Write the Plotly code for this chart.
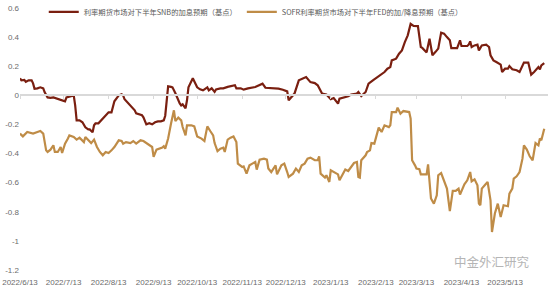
import plotly.graph_objects as go

snb_dates = ["2022-06-13","2022-06-14","2022-06-16","2022-06-17","2022-06-19","2022-06-21","2022-06-22","2022-06-23","2022-06-25","2022-06-27",
"2022-06-29","2022-06-30","2022-07-02","2022-07-04","2022-07-06","2022-07-08","2022-07-11","2022-07-13","2022-07-14","2022-07-15",
"2022-07-17","2022-07-20","2022-07-21","2022-07-22","2022-07-24","2022-07-26","2022-07-28","2022-07-30","2022-07-31","2022-08-02",
"2022-08-03","2022-08-04","2022-08-06","2022-08-08","2022-08-09","2022-08-11","2022-08-13","2022-08-15","2022-08-16","2022-08-17",
"2022-08-19","2022-08-20","2022-08-22","2022-08-23","2022-08-24","2022-08-26","2022-08-27","2022-08-28","2022-08-31","2022-09-01",
"2022-09-03","2022-09-05","2022-09-06","2022-09-08","2022-09-10","2022-09-12","2022-09-14","2022-09-16","2022-09-18","2022-09-20",
"2022-09-21","2022-09-23","2022-09-25","2022-09-26","2022-09-28","2022-09-29","2022-10-01","2022-10-02","2022-10-03","2022-10-05",
"2022-10-06","2022-10-07","2022-10-09","2022-10-10","2022-10-12","2022-10-13","2022-10-15","2022-10-17","2022-10-18","2022-10-20",
"2022-10-21","2022-10-23","2022-10-25","2022-10-26","2022-10-29","2022-10-31","2022-11-03","2022-11-05","2022-11-08","2022-11-09",
"2022-11-12","2022-11-14","2022-11-17","2022-11-22","2022-11-25","2022-11-27","2022-11-29","2022-12-04","2022-12-08","2022-12-11",
"2022-12-14","2022-12-15","2022-12-17","2022-12-19","2022-12-22","2022-12-25","2022-12-27","2022-12-30","2023-01-02","2023-01-04",
"2023-01-05","2023-01-07","2023-01-10","2023-01-13","2023-01-15","2023-01-16","2023-01-18","2023-01-19","2023-01-23","2023-01-25",
"2023-01-27","2023-01-31","2023-02-01","2023-02-03","2023-02-06","2023-02-08","2023-02-11","2023-02-14","2023-02-16","2023-02-18",
"2023-02-19","2023-02-21","2023-02-23","2023-02-24","2023-02-27","2023-03-01","2023-03-03","2023-03-05","2023-03-07","2023-03-09",
"2023-03-11","2023-03-14","2023-03-16","2023-03-17","2023-03-19","2023-03-20","2023-03-22","2023-03-24","2023-03-26","2023-03-28",
"2023-03-30","2023-04-01","2023-04-03","2023-04-05","2023-04-06","2023-04-10","2023-04-12","2023-04-13","2023-04-17","2023-04-18",
"2023-04-19","2023-04-20","2023-04-22","2023-04-24","2023-04-25","2023-04-27","2023-04-30","2023-05-02","2023-05-03","2023-05-05",
"2023-05-07","2023-05-10","2023-05-11","2023-05-13","2023-05-15","2023-05-16","2023-05-18","2023-05-21","2023-05-23","2023-05-25",
"2023-05-26","2023-05-29","2023-05-30","2023-05-31","2023-06-02","2023-06-04","2023-06-05","2023-06-06","2023-06-07","2023-06-09"]
snb_values = [0.117,0.103,0.106,0.093,0.103,0.103,0.082,0.045,0.048,0.055,
0.048,0.021,-0.014,-0.017,-0.014,-0.021,-0.027,-0.034,-0.041,-0.014,
-0.007,0.0,-0.069,-0.172,-0.172,-0.185,-0.220,-0.234,-0.234,-0.254,
-0.206,-0.192,-0.192,-0.172,-0.158,-0.137,-0.117,-0.117,-0.069,-0.041,
-0.014,0.0,0.007,0.0,-0.027,-0.048,-0.062,-0.076,-0.103,-0.124,
-0.130,-0.137,-0.151,-0.199,-0.192,-0.199,-0.185,-0.179,-0.179,-0.172,
-0.140,0.062,0.058,0.055,0.014,-0.014,-0.055,-0.069,-0.062,-0.089,
-0.034,0.055,0.103,0.117,0.076,0.055,0.041,0.034,0.041,0.055,
0.034,0.048,0.024,0.041,0.048,0.048,0.058,0.062,0.069,0.048,
0.048,0.039,0.048,0.057,0.069,0.080,0.052,0.050,0.046,0.038,
0.027,-0.034,-0.014,0.012,0.103,0.119,0.126,0.091,0.084,0.069,
0.048,0.012,0.005,-0.027,-0.019,-0.034,-0.057,-0.023,-0.012,-0.007,
0.005,0.012,0.023,-0.005,0.023,0.080,0.103,0.126,0.137,0.156,
0.160,0.183,0.194,0.240,0.252,0.286,0.309,0.366,0.412,0.491,
0.477,0.476,0.332,0.326,0.302,0.295,0.389,0.275,0.297,0.321,
0.431,0.424,0.400,0.378,0.325,0.325,0.378,0.339,0.339,0.348,
0.371,0.332,0.343,0.348,0.309,0.343,0.348,0.332,0.275,0.240,
0.229,0.211,0.160,0.183,0.183,0.201,0.179,0.172,0.160,0.206,
0.225,0.225,0.183,0.142,0.160,0.183,0.194,0.179,0.206,0.222]

fed_dates = ["2022-06-13","2022-06-15","2022-06-18","2022-06-20","2022-06-22","2022-06-25","2022-06-27","2022-06-29","2022-07-01","2022-07-02",
"2022-07-04","2022-07-06","2022-07-07","2022-07-09","2022-07-11","2022-07-12","2022-07-14","2022-07-16","2022-07-17","2022-07-20",
"2022-07-22","2022-07-24","2022-07-27","2022-07-28","2022-07-30","2022-08-01","2022-08-03","2022-08-05","2022-08-07","2022-08-09",
"2022-08-11","2022-08-13","2022-08-15","2022-08-17","2022-08-20","2022-08-22","2022-08-23","2022-08-25","2022-08-28","2022-08-30",
"2022-09-01","2022-09-04","2022-09-06","2022-09-08","2022-09-09","2022-09-11","2022-09-12","2022-09-13","2022-09-15","2022-09-19",
"2022-09-20","2022-09-21","2022-09-23","2022-09-25","2022-09-27","2022-09-28","2022-09-30","2022-10-02","2022-10-03","2022-10-05",
"2022-10-06","2022-10-09","2022-10-11","2022-10-13","2022-10-16","2022-10-18","2022-10-20","2022-10-22","2022-10-24","2022-10-25",
"2022-10-27","2022-10-29","2022-10-31","2022-11-01","2022-11-03","2022-11-05","2022-11-07","2022-11-09","2022-11-10","2022-11-13",
"2022-11-14","2022-11-16","2022-11-18","2022-11-20","2022-11-22","2022-11-23","2022-11-25","2022-11-28","2022-11-30","2022-12-01",
"2022-12-03","2022-12-06","2022-12-07","2022-12-10","2022-12-12","2022-12-14","2022-12-15","2022-12-18","2022-12-20","2022-12-22",
"2022-12-24","2022-12-26","2022-12-28","2022-12-30","2023-01-02","2023-01-04","2023-01-05","2023-01-06","2023-01-09","2023-01-10",
"2023-01-12","2023-01-13","2023-01-15","2023-01-18","2023-01-19","2023-01-21","2023-01-23","2023-01-25","2023-01-27","2023-01-29",
"2023-01-31","2023-02-01","2023-02-02","2023-02-03","2023-02-06","2023-02-07","2023-02-09","2023-02-10","2023-02-12","2023-02-15",
"2023-02-17","2023-02-19","2023-02-22","2023-02-23","2023-02-24","2023-02-27","2023-02-28","2023-03-02","2023-03-04","2023-03-08",
"2023-03-09","2023-03-10","2023-03-12","2023-03-13","2023-03-15","2023-03-16","2023-03-20","2023-03-21","2023-03-23","2023-03-25",
"2023-03-27","2023-03-28","2023-03-30","2023-04-01","2023-04-03","2023-04-05","2023-04-07","2023-04-09","2023-04-11","2023-04-12",
"2023-04-14","2023-04-15","2023-04-17","2023-04-19","2023-04-20","2023-04-22","2023-04-24","2023-04-25","2023-04-26","2023-04-27",
"2023-04-29","2023-05-01","2023-05-03","2023-05-04","2023-05-06","2023-05-08","2023-05-10","2023-05-12","2023-05-15","2023-05-16",
"2023-05-18","2023-05-19","2023-05-21","2023-05-23","2023-05-25","2023-05-26","2023-05-28","2023-05-30","2023-06-01","2023-06-03",
"2023-06-05","2023-06-06","2023-06-07","2023-06-08","2023-06-09"]
fed_values = [-0.263,-0.282,-0.252,-0.259,-0.263,-0.252,-0.245,-0.263,-0.378,-0.389,
-0.373,-0.343,-0.389,-0.389,-0.355,-0.396,-0.332,-0.297,-0.275,-0.286,
-0.304,-0.291,-0.321,-0.286,-0.309,-0.328,-0.304,-0.355,-0.389,-0.412,
-0.389,-0.396,-0.378,-0.355,-0.309,-0.314,-0.332,-0.321,-0.328,-0.314,
-0.332,-0.309,-0.314,-0.328,-0.332,-0.343,-0.355,-0.422,-0.373,-0.359,
-0.350,-0.366,-0.297,-0.194,-0.103,-0.177,-0.153,-0.172,-0.218,-0.275,
-0.206,-0.206,-0.213,-0.282,-0.297,-0.314,-0.213,-0.245,-0.275,-0.328,
-0.383,-0.366,-0.359,-0.389,-0.304,-0.291,-0.282,-0.321,-0.469,-0.492,
-0.488,-0.538,-0.481,-0.469,-0.458,-0.510,-0.442,-0.435,-0.442,-0.503,
-0.527,-0.481,-0.543,-0.481,-0.469,-0.527,-0.561,-0.538,-0.503,-0.527,
-0.481,-0.469,-0.435,-0.428,-0.446,-0.446,-0.419,-0.538,-0.565,-0.549,
-0.595,-0.515,-0.527,-0.543,-0.584,-0.549,-0.510,-0.520,-0.492,-0.465,
-0.458,-0.561,-0.565,-0.446,-0.412,-0.389,-0.378,-0.328,-0.332,-0.222,
-0.252,-0.206,-0.218,-0.206,-0.115,-0.115,-0.085,-0.126,-0.108,-0.115,
-0.160,-0.446,-0.481,-0.503,-0.508,-0.543,-0.543,-0.474,-0.709,-0.744,
-0.687,-0.549,-0.534,-0.595,-0.641,-0.795,-0.657,-0.657,-0.641,-0.682,
-0.630,-0.611,-0.584,-0.527,-0.591,-0.577,-0.618,-0.744,-0.755,-0.641,
-0.618,-0.595,-0.721,-0.939,-0.812,-0.744,-0.836,-0.755,-0.762,-0.675,
-0.641,-0.572,-0.556,-0.527,-0.435,-0.343,-0.373,-0.419,-0.446,-0.328,
-0.343,-0.297,-0.309,-0.263,-0.229]

x_tick_vals = ["2022-06-13","2022-07-13","2022-08-13","2022-09-13","2022-10-13","2022-11-13",
               "2022-12-13","2023-01-13","2023-02-13","2023-03-13","2023-04-13","2023-05-13"]
x_tick_text = ["2022/6/13","2022/7/13","2022/8/13","2022/9/13","2022/10/13","2022/11/13",
               "2022/12/13","2023/1/13","2023/2/13","2023/3/13","2023/4/13","2023/5/13"]
y_tick_vals = [-1.2, -1.0, -0.8, -0.6, -0.4, -0.2, 0.0, 0.2, 0.4, 0.6]
y_tick_text = ["-1.2", "-1", "-0.8", "-0.6", "-0.4", "-0.2", "0", "0.2", "0.4", "0.6"]

snb_name = "利率期货市场对下半年SNB的加息预期（基点）"
fed_name = "SOFR利率期货市场对下半年FED的加/降息预期（基点）"

x_range = ["2022-06-13", "2023-06-11 14:00"]
y_range = [-1.2, 0.6]

FONT = "Noto Sans CJK SC, Liberation Sans, sans-serif"
TICK_COLOR = "#6b6b6b"

fig = go.Figure()
fig.add_trace(go.Scatter(x=snb_dates, y=snb_values, name=snb_name, mode="lines",
                         line=dict(color="#7a1f10", width=2.2)))
fig.add_trace(go.Scatter(x=fed_dates, y=fed_values, name=fed_name, mode="lines",
                         line=dict(color="#bf8c47", width=2.2), xaxis="x2"))

fig.update_layout(
    width=550, height=293,
    margin=dict(l=20, r=2, t=8, b=23, autoexpand=False),
    paper_bgcolor="white", plot_bgcolor="white",
    font=dict(family=FONT, size=8, color=TICK_COLOR),
    showlegend=True,
    legend=dict(orientation="h", x=0.045, y=0.985, xanchor="left", yanchor="middle",
                font=dict(size=7.3, color="#595959", family=FONT),
                bgcolor="rgba(0,0,0,0)", itemwidth=30,
                traceorder="normal"),
    xaxis=dict(type="date", range=x_range, tickvals=x_tick_vals, ticktext=x_tick_text,
               showgrid=False, zeroline=False, showline=False, ticks="",
               tickfont=dict(size=8, color=TICK_COLOR, family="Liberation Sans, sans-serif"),
               ticklabelstandoff=6),
    xaxis2=dict(type="date", range=x_range, tickvals=x_tick_vals, overlaying="x",
                anchor="free", position=(0 - y_range[0]) / (y_range[1] - y_range[0]),
                side="bottom", showgrid=False, zeroline=False, showline=True,
                linecolor="#d9d9d9", linewidth=1.5, ticks="outside", ticklen=3,
                tickcolor="#d9d9d9", tickwidth=1, showticklabels=False),
    yaxis=dict(range=y_range, tickvals=y_tick_vals, ticktext=y_tick_text,
               showgrid=False, zeroline=False, showline=False, ticks="",
               tickfont=dict(size=8, color=TICK_COLOR, family="Liberation Sans, sans-serif")),
)

fig.add_annotation(text="中金外汇研究", xref="paper", yref="paper", x=1.0, y=0.0,
                   xanchor="right", yanchor="bottom", showarrow=False,
                   font=dict(size=12.5, color="#b5b5b5", family=FONT), xshift=-16, yshift=-3)

fig.write_html("out.html")
